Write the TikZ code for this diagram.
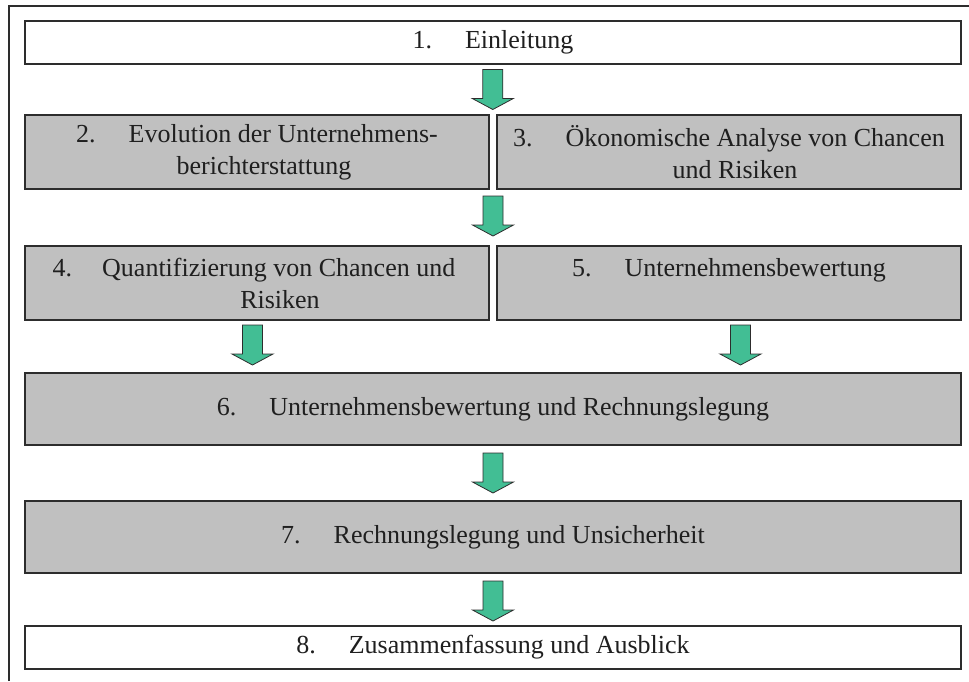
\documentclass[tikz,border=0pt]{standalone}
\usepackage{fontspec}
\setmainfont{Liberation Serif}
\usetikzlibrary{calc}
\definecolor{boxgray}{RGB}{192,192,192}
\definecolor{edge}{RGB}{45,45,45}
\definecolor{arrowgreen}{RGB}{66,190,148}

\begin{document}
\begin{tikzpicture}[x=1pt,y=-1pt,
  chapter/.style={draw=edge, line width=1.2pt, inner sep=0pt, align=center,
    font=\fontsize{26}{32}\selectfont, text=black!88},
  plainbox/.style={chapter, fill=white},
  greybox/.style={chapter, fill=boxgray},
  wide/.style={minimum width=936pt},
  half/.style={minimum width=464pt},
  flowarrow/.pic={\filldraw[fill=arrowgreen, draw=edge, line width=0.8pt]
    (-10,-20) -- (10,-20) -- (10,9) -- (20.5,9) -- (0,20) -- (-20.5,9) -- (-10,9) -- cycle;}
]
\useasboundingbox (0,0) rectangle (969,681);

% page frame
\draw[edge, line width=2pt] (9,681) -- (9,6) -- (969,6);

% chapters
\node[plainbox, wide, minimum height=43pt] (b1) at (493,42.5)
  {1.\hspace{33pt}Einleitung};
\node[greybox, half, minimum height=74pt] (b2) at (257,152)
  {2.\hspace{33pt}Evolution der Unternehmens-\\\hspace*{14pt}berichterstattung};
\node[greybox, half, minimum height=74pt] (b3) at (729,152)
  {3.\hspace{33pt}Ökonomische Analyse von Chancen\\\hspace*{12pt}und Risiken};
\node[greybox, half, minimum height=74pt] (b4) at (257,283)
  {4.\hspace{30pt}Quantifizierung von Chancen und\hspace*{6pt}\\\hspace*{46pt}Risiken};
\node[greybox, half, minimum height=74pt] (b5) at (729,283)
  {5.\hspace{33pt}Unternehmensbewertung\\\mbox{}};
\node[greybox, wide, minimum height=72pt] (b6) at (493,409)
  {6.\hspace{33pt}Unternehmensbewertung und Rechnungslegung};
\node[greybox, wide, minimum height=72pt] (b7) at (493,537)
  {7.\hspace{33pt}Rechnungslegung und Unsicherheit};
\node[plainbox, wide, minimum height=43pt] (b8) at (493,647.5)
  {8.\hspace{33pt}Zusammenfassung und Ausblick};

% arrows between the chapters
\coordinate (a1) at ($(b1.south)!.5!(b2.north east)$);
\coordinate (a2) at ($(b2.south east)!.5!(b5.north west)$);
\coordinate (a3) at ($(b4.south)!.5!(b4.south |- b6.north)$);
\coordinate (a4) at ($(b5.south)!.5!(b5.south |- b6.north)$);
\coordinate (a5) at ($(b6.south)!.5!(b7.north)$);
\coordinate (a6) at ($(b7.south)!.5!(b8.north)$);
\pic at ([xshift=1.5pt]a1) {flowarrow};
\pic at ([yshift=1.5pt]a2) {flowarrow};
\pic at ([xshift=-4.5pt,yshift=1.5pt]a3) {flowarrow};
\pic at ([xshift=11.5pt,yshift=1.5pt]a4) {flowarrow};
\pic at (a5) {flowarrow};
\pic at ([yshift=-1.5pt]a6) {flowarrow};
\end{tikzpicture}
\end{document}
